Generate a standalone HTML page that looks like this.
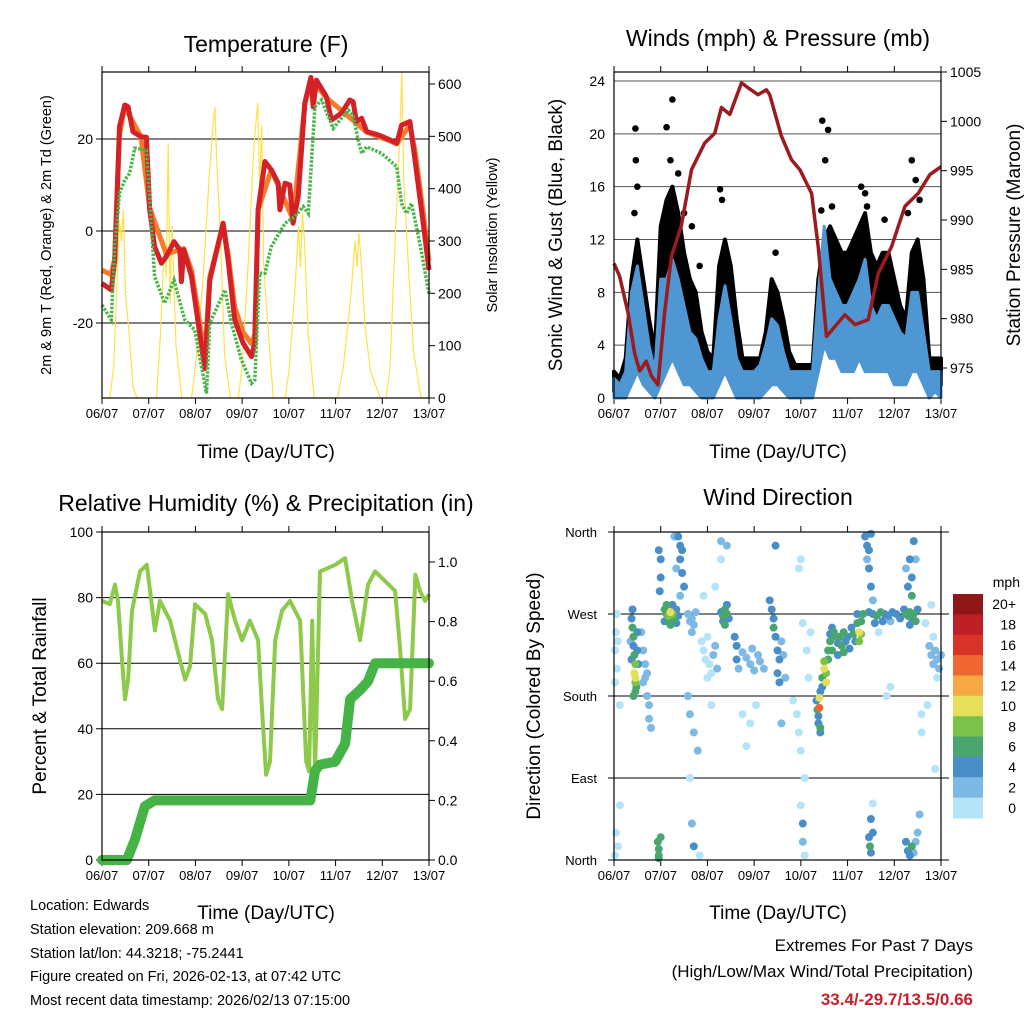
<!DOCTYPE html>
<html><head><meta charset="utf-8"><style>
html,body{margin:0;padding:0;background:#fff}
svg{display:block;font-family:"Liberation Sans",sans-serif}
</style></head><body>
<svg id="chart" width="1024" height="1024" viewBox="0 0 1024 1024" xmlns="http://www.w3.org/2000/svg">
<rect x="0" y="0" width="1024" height="1024" fill="#fff"/>
<text x="266" y="52" font-size="23" text-anchor="middle">Temperature (F)</text>
<text x="778" y="46" font-size="23" text-anchor="middle">Winds (mph) &amp; Pressure (mb)</text>
<text x="266" y="511" font-size="23" text-anchor="middle">Relative Humidity (%) &amp; Precipitation (in)</text>
<text x="778" y="505" font-size="23" text-anchor="middle">Wind Direction</text>
<text x="266" y="458" font-size="19" text-anchor="middle">Time (Day/UTC)</text>
<text x="778" y="458" font-size="19" text-anchor="middle">Time (Day/UTC)</text>
<text x="266" y="919" font-size="19" text-anchor="middle">Time (Day/UTC)</text>
<text x="778" y="919" font-size="19" text-anchor="middle">Time (Day/UTC)</text>
<text transform="translate(51,235) rotate(-90)" font-size="14.5" text-anchor="middle">2m &amp; 9m T (Red, Orange) &amp; 2m Td (Green)</text>
<text transform="translate(497,235) rotate(-90)" font-size="14.5" text-anchor="middle">Solar Insolation (Yellow)</text>
<text transform="translate(562,235) rotate(-90)" font-size="19" text-anchor="middle">Sonic Wind &amp; Gust (Blue, Black)</text>
<text transform="translate(1020,235) rotate(-90)" font-size="19" text-anchor="middle">Station Pressure (Maroon)</text>
<text transform="translate(46,696) rotate(-90)" font-size="19" text-anchor="middle">Percent &amp; Total Rainfall</text>
<text transform="translate(540,696) rotate(-90)" font-size="19" text-anchor="middle">Direction (Colored By Speed)</text>
<g font-size="14.5">
<text x="30" y="910">Location: Edwards</text>
<text x="30" y="934">Station elevation: 209.668 m</text>
<text x="30" y="958">Station lat/lon: 44.3218; -75.2441</text>
<text x="30" y="981">Figure created on Fri, 2026-02-13, at 07:42 UTC</text>
<text x="30" y="1005">Most recent data timestamp: 2026/02/13 07:15:00</text>
</g>
<g text-anchor="end">
<text x="973" y="951" font-size="17">Extremes For Past 7 Days</text>
<text x="973" y="977" font-size="17">(High/Low/Max Wind/Total Precipitation)</text>
<text x="973" y="1005" font-size="17" font-weight="bold" fill="#c8202a">33.4/-29.7/13.5/0.66</text>
</g>
<g id="layer"></g>
</svg>
<script>
const dayLabels=["06/07","07/07","08/07","09/07","10/07","11/07","12/07","13/07"];
const tempTicks=[-20,0,20];
const solarTicks=[0,100,200,300,400,500,600];
const windTicks=[0,4,8,12,16,20,24];
const pressTicks=[975,980,985,990,995,1000,1005];
const rhTicks=[0,20,40,60,80,100];
const precipTicks=[0.0,0.2,0.4,0.6,0.8,1.0];
const dirLabels=["North","East","South","West","North"];
const dirTickVals=[0,90,180,270,360];
const speedLabels=["0","2","4","6","8","10","12","14","16","18","20+"];
const speedColors=["#b5e3f8","#7cb9e5","#4a8ec7","#4aa66f","#7bc24b","#e4e05a","#f6a943","#ef6630","#da3328","#be1e26","#8f1718"];

const redHours=[0,4.8,6.5,9,11.7,13.4,15.9,20,22.8,24.5,27,30.5,33,37,40,40.8,42,46,49.4,52.8,55.4,62.2,64.8,68.2,72.5,76.8,78.5,80.2,83.7,87,90.5,91.4,94,96.5,98.2,100.8,104.2,107.3,108.5,110.2,115.3,117.9,123,127.3,129,130.7,133.4,136,142,148,151.4,153.9,158.2,160.8,165,168];
const redTemps=[-11.4,-12.8,-6.3,22.7,27.4,27,21.6,20.5,20.4,4.6,-3.4,-7,-5.6,-2.3,-4.1,-11,-4.1,-9.9,-20,-29.9,-10.7,1.7,-6.3,-19.3,-24.4,-27.3,-24.4,4.6,15.1,13.3,10.4,4.6,10.4,10,1.7,7.5,27.8,33.4,27,32.8,29.2,24.1,25.6,28.5,28.1,23.8,24.5,21.6,20.9,19.8,19,23,23.8,15.4,1.7,-8.5];
const orangeHours=[0,4.8,6.5,9,11.7,20,24.5,33,42,46,49.4,52.8,55.4,62.2,64.8,68.2,72.5,76.8,78.5,80.2,87,98.2,104.2,107.3,115.3,136,151.4,158.2,160.8,165,168];
const orangeTemps=[-8.5,-9.5,-6,21,27,20.5,5,-5,-3.8,-8.5,-17.5,-27.5,-10,1.5,-5,-16.5,-22,-24.5,-22.5,4.6,13.3,2.5,27.5,33,29,21.5,19,23,17.5,4,-6.5];
const greenHours=[0,4.8,6.5,9,11.7,14.2,16.8,22.8,24.5,27,32.2,37,42.5,47.6,53.7,55.4,63.2,66.5,71.6,76.8,78.5,81,83.7,87,94,99,103.4,106,109.4,112.8,118.8,126.5,129,131.6,133.4,136,143.6,151.4,153.9,156.5,159,163.3,168];
const greenTemps=[-16.1,-19.3,-3.4,8.2,11.1,12.5,18,17.6,6.7,-9.9,-15.7,-10.7,-19.3,-21.5,-35.3,-20,-12.8,-20,-28,-33.1,-32.4,-9.2,-9.2,-3.4,1.7,3.1,5.3,3.8,27,28.5,22.3,26.3,25.2,19.8,16.9,18.3,16.9,14,6,3.8,6,-2.7,-13.6];
const solarHours=[0,4,6,8,9,10,11,12,14,16,18,28,30,32,33,34,35,36,38,41,46,48,52,55,57,58,59,61,63,66,70,72,75,78,80,81,82,83,85,88,94,96,99,101,102,103,104,106,109,121,124,128,130,131,132,133,135,138,143,146,148,150,152,153,154,155,157,160,164,168];
const solarVals=[0,0,60,250,340,300,360,200,120,20,0,0,120,300,230,487,180,330,100,0,0,60,230,420,520,556,450,300,80,0,0,60,250,480,564,400,520,260,150,0,0,50,200,330,250,354,300,120,0,0,60,200,300,250,315,270,140,50,0,0,60,250,420,500,623,420,280,90,0,0];

const windHours=[0,3,6,9,12,15,18,21,24,27,30,33,36,39,42,45,48,51,54,57,60,63,66,69,72,75,78,81,84,87,90,93,96,99,102,105,108,111,114,117,120,123,126,129,132,135,138,141,144,147,150,153,156,159,162,165,168];
const windLo=[0,0,0,1,2,1,0.5,0,1,2,3,2,1,1,0.5,0,0,0,1,2,1,0,0,0,0,0,0.5,1,1,0.5,0,0,0,0,0,2,4,3,3,2,2,2,3,2,2,2,2,2,1,1,1,2,2,1,0,0.5,0];
const windHi=[1.5,1,2,8,10,7,4,2,9,9,10.5,9,7,5,4.5,3,2,2,6,8.5,6,3,2,2,2,2.5,4,6,5.5,3.5,2,2,2,2,2,8,13,9,8,7,7,8,9,10.5,7,6,7,7,6,5,4.5,8,8,5,2,2,2];
const gustLo=[0.5,0.5,1,4,5,3,2,1,3,6,8,6,4,3,2,1,1,1,3,5,4,1,0.5,0.5,0.5,0.5,2,3,3,1,0.5,0.5,0.5,0.5,0.5,4,6,6,6,5,5,5,6,6,5,4,5,5,4,3,3,5,5,3,1,1.5,1];
const gustHi=[2,1.5,3,9,12,9,6,3.5,13,15,16,14,11,9,8,5,3.5,3,10,12,10,6,3,3,3,3,5,9,8,6,3.5,2.5,2.5,2.5,2.5,9,12,13,12,11,11,12,13,14,11,10,11,11,9,7,6,11,12,9,3,3,3];
const gustOutHours=[11,11.2,30,27,54.5,107,110,129,153,155,12,106.5,29,33,55.5,83,108.5,112,127,130,139,151,157,10.5,36,40,44];
const gustOutVals=[20.4,18,22.6,20.5,15.8,21,20.3,15.5,18,16.5,16,14.2,18,17,15,11,18,14.5,16,14.5,13.5,14,15,14,14,13,10];
const pressHours=[0,2.9,7.2,10.6,13.2,16.6,19.2,22.6,26,29.5,34.6,39.8,46.6,51.8,55.2,59.5,65.5,68.9,74,78.3,80,86,91.2,95.5,101.5,104.9,109.2,113.5,118.6,123.8,130.6,135.8,142.6,149.5,156.3,162.3,168];
const pressVals=[985.6,984.3,980.6,976.5,974.7,975.7,974.2,973.3,980.6,986.3,989.4,995.1,997.8,998.8,1001.4,1000.7,1003.9,1003.4,1002.7,1003.2,1002.7,998.5,996.1,995.1,992.7,987.3,978.2,979.2,980.4,979.4,979.9,984.6,987.3,991.4,992.7,994.6,995.4];

const rhHours=[0,4,6.7,8.2,10.3,11.8,13.4,15.4,19.5,23,24.7,27.2,29.8,35,40,42.7,45.2,47.8,53,56.5,59.6,61.7,64.8,68.4,72,76,80.2,82.2,84.3,86.3,89,92.5,96.6,101.8,104.9,106.4,108,109.5,112,119.8,124.9,128.5,132.6,136.7,140.3,145.5,150.6,153.2,155.7,158.3,161,163.4,166,168];
const rhVals=[79,78,84,79,61,49,55,76,88,90,82,70,79,73,61,55,59,78,75,67,49,46,81,73,67,73,67,46,26,30,67,76,79,73,30,27,73,27,88,90,92,79,67,84,88,85,82,64,43,46,87,82,79,81];
const precipHours=[0,12.8,17,22,27,107,109.5,112,119.8,124.9,127.5,132.6,136.7,140.3,168];
const precipVals=[0,0,0.07,0.18,0.2,0.2,0.3,0.32,0.33,0.39,0.54,0.57,0.6,0.66,0.66];

const dirHours=[0.5,1,1.5,0.5,2,1,2,0.5,3,3,1.5, 9,9.5,10,10,10.5,11,10.5,11,11,11.5,11,9.5,12,12,10,12.5,9,8.5, 15,16,16,17,18,18,19,15,17,14, 23,24,24,23.5,22.5,23,23,24,23, 26,27,28,29,30,28,31,32,27,30,32,33,29,26, 33,34,35,34,35,32,36,34,31, 38,39,40,41,40,42,38,39,41,43,40,41,44,39, 45,46,47,48,49,50,51,52,53,48,50,46,52,55, 55,56,57,58,59,56,58,57,55,58, 62,63,63,64,66,68,70,71,72,74,75,77,66,70,73,68, 80,81,82,82,83,84,85,84,85,86,87,88,83,86, 92,94,95,96,96,97,97,98,95,96,97,99,100,98,101, 104,104.5,105,105,106,106,105.5,105.5,106,107,107, 108,109,109,110,110,111,111,112,112,108, 113,114,115,116,117,118,119,120,121,122,123,124,115,118, 125,126,127,127,128,126,125, 129,130,131,131,132,130,132,133, 131,133,135,137,139,141,143,145,147,134,138,142,136,140,142, 131,131.5,132,133,132,133, 150,151,152,153,154,155,152,149,156,151,153,152,154,155,153,150, 150,151,152,153,154,155,156,157,158,158, 162,163,164,165,166,167,168,164,166,160,163,161,165];
const dirDegs=[230,250,210,195,240,30,15,5,60,170,270, 265,255,245,235,225,215,205,200,195,190,185,275,250,230,180,215,220,240, 230,215,200,180,170,155,145,195,205,250, 340,330,310,295,20,12,5,25,2, 275,270,268,272,270,262,265,260,280,280,275,268,258,262, 355,345,340,330,315,320,300,290,355, 270,262,265,258,250,272,180,160,140,120,40,15,5,90, 240,230,220,245,215,205,225,235,210,200,170,290,300,330, 272,268,275,270,265,262,280,258,350,345, 245,235,220,210,228,222,215,232,208,225,218,210,160,150,170,125, 285,275,265,255,245,230,220,205,195,240,225,200,345,150, 175,160,140,120,60,40,20,90,320,330,260,230,200,5,250, 175,165,158,150,145,140,167,178,185,200,190, 210,205,195,220,230,240,248,255,230,218, 250,245,238,245,235,250,240,245,232,255,248,240,225,228, 260,250,248,262,270,240,270, 355,345,340,320,300,330,358,285, 272,270,268,272,270,268,272,270,265,260,262,262,250,180,190, 25,15,8,30,45,62, 270,268,272,265,270,262,258,275,275,300,310,330,350,330,290,320, 20,10,5,15,8,20,30,50,140,160, 235,225,215,230,220,210,225,245,200,260,280,170,100];
const dirSpeeds=[0,0,1,0,1,0,1,0,0,1,0, 5,6,7,5,6,8,10,10,8,7,7,4,4,4,6,4,4,3, 3,3,3,3,3,3,3,3,3,2, 4,4,4,5,7,7,6,6,7, 6,6,9,10,8,7,6,5,7,5,5,4,6,5, 4,4,4,4,4,3,4,3,3, 3,3,2,2,2,3,2,2,2,2,2,4,1,1, 1,1,1,1,1,1,2,2,2,1,1,1,1,1, 5,6,6,6,5,4,5,6,3,3, 4,4,4,3,2,2,2,2,2,2,2,2,1,1,1,1, 4,5,5,6,4,4,4,4,4,3,3,3,4,3, 1,1,1,1,1,4,2,1,1,1,1,1,1,1,1, 4,6,5,4,6,5,14,10,5,6,4, 10,9,10,7,6,6,5,5,6,8, 6,6,5,7,6,6,5,4,5,4,6,5,4,6, 6,10,8,7,7,8,4, 4,4,4,4,4,3,4,3, 4,5,6,6,4,4,5,4,4,4,4,3,1,1,1, 5,6,4,4,4,1, 6,6,6,5,6,6,4,4,5,4,4,4,4,3,6,3, 4,4,4,6,3,2,2,2,1,1, 2,2,2,2,2,2,2,1,1,1,1,1,1];

const NS="http://www.w3.org/2000/svg";
const layer=document.getElementById('layer');
function mk(tag,attrs,parent){const e=document.createElementNS(NS,tag);for(const k in attrs)e.setAttribute(k,attrs[k]);(parent||layer).appendChild(e);return e;}
function lin(d0,d1,r0,r1){return v=>r0+(v-d0)*(r1-r0)/(d1-d0);}
function pathOf(xs,ys,fx,fy){return xs.map((h,i)=>(i?'L':'M')+fx(h).toFixed(1)+','+fy(ys[i]).toFixed(1)).join('');}

const P1={x0:102,x1:429,y0:72,y1:398};
const P2={x0:614,x1:941,y0:72,y1:398};
const P3={x0:102,x1:429,y0:532,y1:860};
const P4={x0:614,x1:941,y0:532,y1:860};

function timeAxis(P,g){
  const fx=lin(0,168,P.x0,P.x1);
  dayLabels.forEach((d,i)=>{
    const x=fx(i*24);
    let t=mk('line',{x1:x,x2:x,y1:P.y1,y2:P.y1+6,stroke:'#000','stroke-width':1},g);
    
    
    let t2=mk('line',{x1:x,x2:x,y1:P.y0-6,y2:P.y0,stroke:'#000','stroke-width':1},g);
    
    
    const tx=mk('text',{x:x,y:P.y1+20,'font-size':13,'text-anchor':'middle'},g);
    tx.textContent=d;
    
    
  });
  return fx;
}
function frame(P,g){
  const r=mk('rect',{x:P.x0,y:P.y0,width:P.x1-P.x0,height:P.y1-P.y0,fill:'none',stroke:'#000','stroke-width':1.2},g);
  
  
}
function group(name){const g=mk('g',{});return g;}
function leftTicks(P,g,vals,fy,fmt,grid){
  vals.forEach(v=>{
    const y=fy(v);
    if(grid){const l=mk('line',{x1:P.x0-6,x2:P.x1,y1:y,y2:y,stroke:'#000','stroke-width':1},g);
      
      }
    const t=mk('text',{x:P.x0-9,y:y+5,'font-size':14,'text-anchor':'end'},g);
    t.textContent=fmt(v);
    
    
  });
}
function rightTicks(P,g,vals,fy,fmt){
  vals.forEach(v=>{
    const y=fy(v);
    const l=mk('line',{x1:P.x1,x2:P.x1+6,y1:y,y2:y,stroke:'#000','stroke-width':1},g);
    
    
    const t=mk('text',{x:P.x1+9,y:y+5,'font-size':14,'text-anchor':'start'},g);
    t.textContent=fmt(v);
    
    
  });
}

(function(){
  const g=group('temperature-panel');
  const fx=timeAxis(P1,g);
  const fy=lin(0,20,231,139);
  const fs=lin(0,600,398,84);
  leftTicks(P1,g,tempTicks,fy,v=>String(v),true);
  rightTicks(P1,g,solarTicks,fs,v=>String(v));
  const s=mk('path',{d:pathOf(solarHours,solarVals,fx,fs),fill:'none',stroke:'#ffe04a','stroke-width':1.2},g);
  
  
  const o=mk('path',{d:pathOf(orangeHours,orangeTemps,fx,fy),fill:'none',stroke:'#f47b29','stroke-width':5,'stroke-linejoin':'round'},g);
  
  
  const r=mk('path',{d:pathOf(redHours,redTemps,fx,fy),fill:'none',stroke:'#d42027','stroke-width':5,'stroke-linejoin':'round'},g);
  
  
  const gr=mk('path',{d:pathOf(greenHours,greenTemps,fx,fy),fill:'none',stroke:'#4ab54a','stroke-width':3.5,'stroke-dasharray':'2.5 1.5'},g);
  
  
  frame(P1,g);
})();

(function(){
  const g=group('winds-panel');
  const fx=timeAxis(P2,g);
  const fy=lin(0,24,398,81);
  const fp=lin(975,1005,368,72);
  leftTicks(P2,g,windTicks,fy,v=>String(v),false);
  windTicks.forEach(v=>{const l=mk('line',{x1:P2.x0,x2:P2.x1,y1:fy(v),y2:fy(v),stroke:'#555','stroke-width':1},g);
    
    });
  rightTicks(P2,g,pressTicks,fp,v=>String(v));
  let d=windHours.map((h,i)=>(i?'L':'M')+fx(h)+','+fy(gustHi[i])).join('')+windHours.slice().reverse().map((h,j)=>{const i=windHours.length-1-j;return 'L'+fx(h)+','+fy(gustLo[i]);}).join('')+'Z';
  const gb=mk('path',{d:d,fill:'#000',stroke:'#000','stroke-width':4,'stroke-linejoin':'round'},g);
  
  
  gustOutHours.forEach((h,i)=>{const c=mk('circle',{cx:fx(h),cy:fy(gustOutVals[i]),r:3.3,fill:'#000'},g);
    
    });
  d=windHours.map((h,i)=>(i?'L':'M')+fx(h)+','+fy(windHi[i])).join('')+windHours.slice().reverse().map((h,j)=>{const i=windHours.length-1-j;return 'L'+fx(h)+','+fy(windLo[i]);}).join('')+'Z';
  const wb=mk('path',{d:d,fill:'#4f97d2',stroke:'#4f97d2','stroke-width':3,'stroke-linejoin':'round'},g);
  
  
  const p=mk('path',{d:pathOf(pressHours,pressVals,fx,fp),fill:'none',stroke:'#9b1b1e','stroke-width':3.5,'stroke-linejoin':'round'},g);
  
  
  frame(P2,g);
})();

(function(){
  const g=group('humidity-panel');
  const fx=timeAxis(P3,g);
  const fy=lin(0,100,860,532);
  const fr=lin(0,1,860,562);
  leftTicks(P3,g,rhTicks,fy,v=>String(v),true);
  rightTicks(P3,g,precipTicks,fr,v=>v.toFixed(1));
  const rh=mk('path',{d:pathOf(rhHours,rhVals,fx,fy),fill:'none',stroke:'#8dc94a','stroke-width':4,'stroke-linejoin':'round'},g);
  
  
  const pr=mk('path',{d:pathOf(precipHours,precipVals,fx,fr),fill:'none',stroke:'#46b347','stroke-width':10,'stroke-linejoin':'round','stroke-linecap':'round'},g);
  
  
  frame(P3,g);
})();

(function(){
  const g=group('wind-direction-panel');
  const fx=timeAxis(P4,g);
  const fy=lin(0,360,860,532);
  dirTickVals.forEach((v,i)=>{
    const y=fy(v);
    const l=mk('line',{x1:P4.x0-6,x2:P4.x1+8,y1:y,y2:y,stroke:'#000','stroke-width':1},g);
    
    
    const t=mk('text',{x:P4.x0-17,y:y+5,'font-size':13,'text-anchor':'end'},g);
    t.textContent=dirLabels[i];
    
    
  });
  const order=dirHours.map((h,i)=>i).sort((a,b)=>dirSpeeds[a]-dirSpeeds[b]);
  order.forEach(i=>{
    const ci=Math.min(10,Math.floor(dirSpeeds[i]/2));
    const c=mk('circle',{cx:fx(dirHours[i]),cy:fy(dirDegs[i]),r:4,fill:speedColors[ci]},g);
    
    
  });
  frame(P4,g);
  const cb=group('speed-colorbar');
  const mph=mk('text',{x:1020,y:587,'font-size':14,'text-anchor':'end'},cb);
  mph.textContent='mph';
  
  
  const bh=(818-594)/11;
  for(let k=0;k<11;k++){
    const idx=10-k;
    const y=594+k*bh;
    const r=mk('rect',{x:953,y:y,width:30,height:bh+0.5,fill:speedColors[idx]},cb);
    
    
    const t=mk('text',{x:1016,y:y+bh/2+5,'font-size':14,'text-anchor':'end'},cb);
    t.textContent=speedLabels[idx];
    
    
  }
})();
</script>
</body></html>
